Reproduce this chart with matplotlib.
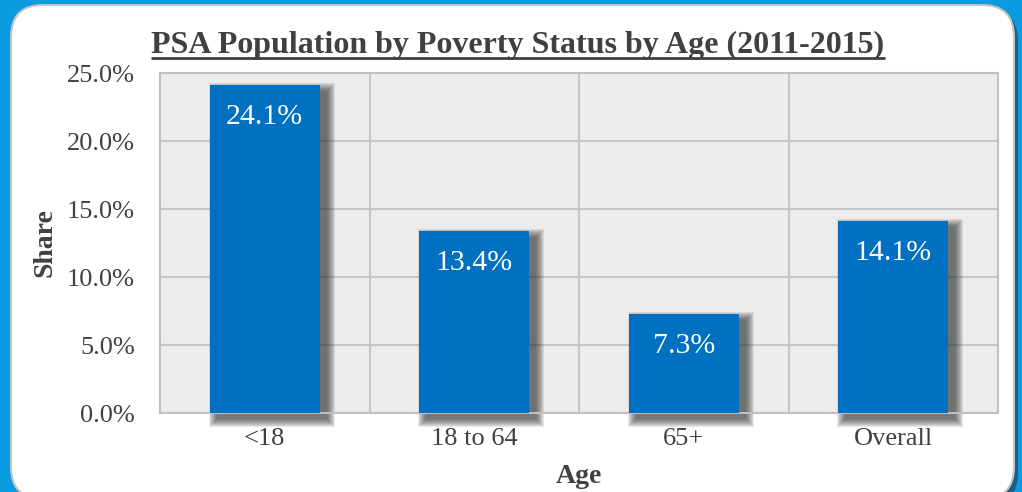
import matplotlib.pyplot as plt
from matplotlib.patches import FancyBboxPatch
from matplotlib.ticker import FuncFormatter, FixedLocator

plt.rcParams['font.family'] = ['Liberation Serif', 'DejaVu Serif']

ages = ['<18', '18 to 64', '65+', 'Overall']
share = [24.1, 13.4, 7.3, 14.1]
yticks = [0, 5, 10, 15, 20, 25]

W, H = 1022, 492
fig = plt.figure(figsize=(W / 100, H / 100), dpi=100, facecolor='#0b9be0')

# rounded white card behind the chart, pixel coordinates
bg = fig.add_axes([0, 0, 1, 1])
bg.set_xlim(0, W)
bg.set_ylim(H, 0)
bg.axis('off')
bg.add_patch(FancyBboxPatch((14, 9), 1004, 496, boxstyle='round,pad=0,rounding_size=32',
                            fc='#1d5d88', ec='none'))
bg.add_patch(FancyBboxPatch((11, 5), 1003, 494, boxstyle='round,pad=0,rounding_size=32',
                            fc='white', ec='#c4c4c4', lw=1.5))

ax = fig.add_axes([160 / W, (H - 413) / H, 838 / W, 340 / H])
ax.set_facecolor('#ececec')
ax.set_xlim(-0.5, 3.5)
ax.set_ylim(0, 25)

x = range(len(ages))
bw = 0.525
px_x = 4 / 838
px_y = 25 / 340

# soft drop shadow: stacked translucent bars
dx, dy = 7, 6
for s in range(0, 9):
    ax.bar([i + dx * px_x for i in x], [v + 2 * s * px_y for v in share],
           width=bw + 2 * s * px_x, bottom=-(dy + s) * px_y,
           color='#303030', alpha=0.11, zorder=2, clip_on=False, lw=0)

ax.bar(x, share, width=bw, color='#0070c0', zorder=3, lw=0)

for i, v in zip(x, share):
    ax.annotate(f'{v:.1f}%', (i, v), xytext=(0, -23), textcoords='offset points',
                ha='center', va='center', color='white', fontsize=21.5, zorder=4)

ax.yaxis.set_major_locator(FixedLocator(yticks))
ax.yaxis.set_major_formatter(FuncFormatter(lambda v, p: f'{v:.1f}%'))
ax.set_xticks(list(x))
ax.set_xticklabels(ages)
ax.set_xticks([0.5, 1.5, 2.5], minor=True)
ax.grid(True, axis='y', which='major', color='#c6c6c6', lw=1.5, zorder=1)
ax.grid(True, axis='x', which='minor', color='#c6c6c6', lw=1.5, zorder=1)
ax.set_axisbelow(True)
ax.tick_params(which='both', length=0)
ax.tick_params(axis='y', pad=18, labelsize=19, labelcolor='#404040')
ax.tick_params(axis='x', pad=11, labelsize=19, labelcolor='#404040')
for sp in ax.spines.values():
    sp.set_color('#c0c0c0')
    sp.set_linewidth(1.5)

ax.set_ylabel('Share', fontsize=20, fontweight='bold', color='#404040', labelpad=7)
ax.set_xlabel('Age', fontsize=20, fontweight='bold', color='#404040', labelpad=10)

title = fig.text(518 / W, 1 - 45 / H, 'PSA Population by Poverty Status by Age (2011-2015)',
                 ha='center', va='center', fontsize=23, fontweight='bold', color='#404040')

# underline the title
fig.canvas.draw()
bb = title.get_window_extent(fig.canvas.get_renderer())
uy = bb.y0 + 2
bg.plot([bb.x0, bb.x1], [H - uy, H - uy], color='#404040', lw=2, solid_capstyle='butt')

fig.savefig('out.png', dpi=100, facecolor=fig.get_facecolor())
